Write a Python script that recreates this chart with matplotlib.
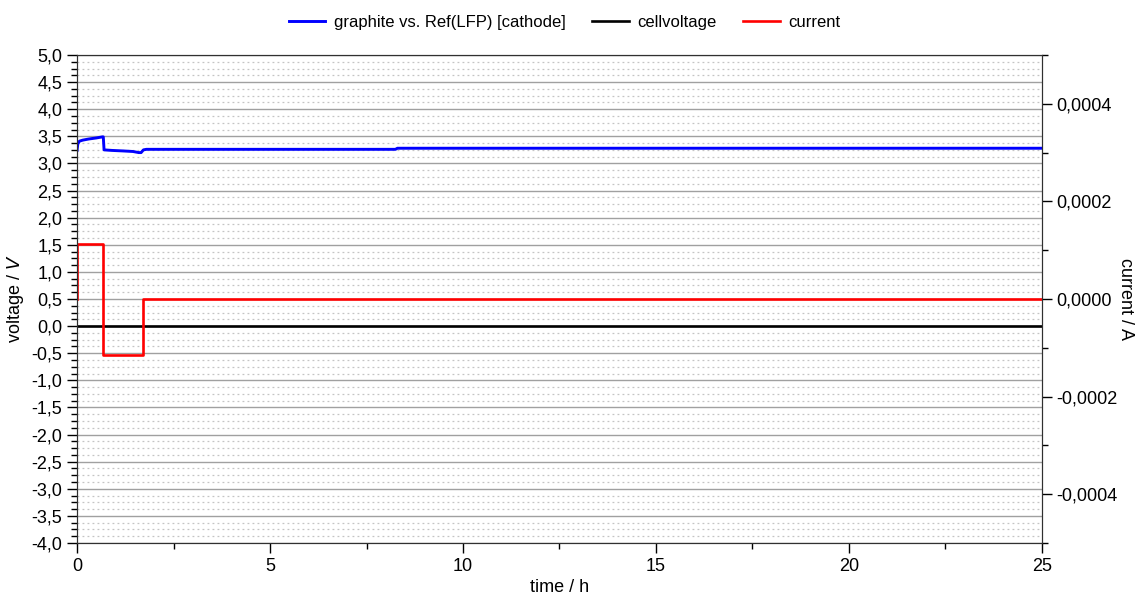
import matplotlib.pyplot as plt
import numpy as np
from matplotlib.ticker import FuncFormatter, MultipleLocator

plt.rcParams['font.family'] = ['Liberation Sans', 'DejaVu Sans']

# graphite vs. Ref(LFP) [cathode], voltage in V over time in h
blue_t = [0, 0.02, 0.06, 0.15, 0.3, 0.5, 0.66, 0.68, 0.7, 0.9, 1.2, 1.45, 1.6, 1.66, 1.72, 1.8, 3.0, 8.25, 8.3, 25]
blue_v = [3.24, 3.36, 3.41, 3.43, 3.45, 3.47, 3.49, 3.49, 3.25, 3.24, 3.23, 3.22, 3.20, 3.20, 3.25, 3.26, 3.26, 3.26, 3.28, 3.28]

# cellvoltage
cell_t = [0, 25]
cell_v = [0.0, 0.0]

# current in A (step profile)
cur_t = [0, 0.001, 0.68, 1.7, 25]
cur_a = [0.0, 0.000112, -0.000114, 0.0, 0.0]


def comma(fmt):
    return FuncFormatter(lambda v, p: fmt.format(v).replace('.', ','))


fig = plt.figure(figsize=(11.38, 5.95), dpi=100)
ax = fig.add_axes([0.0677, 0.0874, 0.8479, 0.8202])
ax2 = ax.twinx()

ax.plot(blue_t, blue_v, color='#0000ff', lw=2.1, label='graphite vs. Ref(LFP) [cathode]')
ax.plot(cell_t, cell_v, color='black', lw=1.9, label='cellvoltage')
ax2.step(cur_t, cur_a, where='post', color='#ff0000', lw=1.9, label='current')

ax.set_xlim(0, 25)
ax.set_ylim(-4, 5)
ax2.set_ylim(-0.0005, 0.0005)

ax.xaxis.set_major_locator(MultipleLocator(5))
ax.xaxis.set_minor_locator(MultipleLocator(2.5))
ax.yaxis.set_major_locator(MultipleLocator(0.5))
ax.yaxis.set_minor_locator(MultipleLocator(0.125))
ax.yaxis.set_major_formatter(comma('{:.1f}'))
ax2.yaxis.set_major_locator(MultipleLocator(0.0002))
ax2.yaxis.set_minor_locator(MultipleLocator(0.0001))
ax2.yaxis.set_major_formatter(comma('{:.4f}'))

ax.grid(axis='y', which='major', color='#a0a0a0', lw=1.0)
ax.grid(axis='y', which='minor', color='#c4c4c4', lw=0.9, linestyle=(0, (1.5, 2.5)))
ax.set_axisbelow(True)

for a in (ax, ax2):
    a.tick_params(which='major', length=7, width=1, labelsize=13, direction='out')
    a.tick_params(which='minor', length=4, width=1, direction='out')
    for s in a.spines.values():
        s.set_color('#303030')

ax.set_xlabel('time / h', fontsize=13, labelpad=3)
ax.set_ylabel('voltage / $\\it{V}$', fontsize=13, labelpad=4)
ax2.set_ylabel('current / A', fontsize=13, rotation=-90, labelpad=12)

h1, l1 = ax.get_legend_handles_labels()
h2, l2 = ax2.get_legend_handles_labels()
fig.legend(h1 + h2, l1 + l2, loc='upper center', bbox_to_anchor=(0.496, 1.0), ncol=3,
           frameon=False, fontsize=12, handlelength=2.2, handletextpad=0.5, columnspacing=1.6)

fig.savefig('out.png', dpi=100)
